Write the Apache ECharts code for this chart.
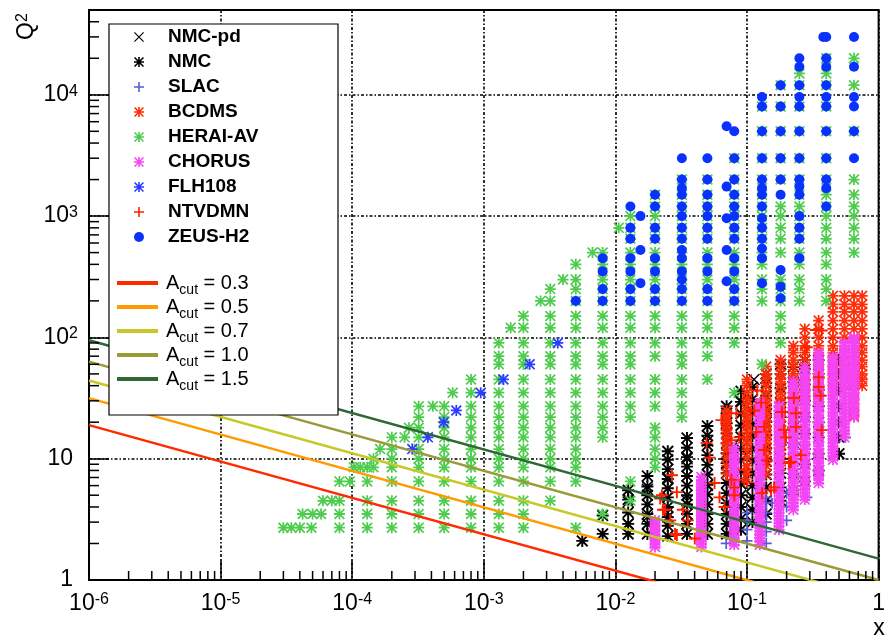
<!DOCTYPE html>
<html>
<head>
<meta charset="utf-8">
<title>Kinematic coverage: Q2 vs x</title>
<script src="https://cdn.jsdelivr.net/npm/echarts@6/dist/echarts.min.js"></script>
<style>
  html, body { margin: 0; padding: 0; background: #fff; }
  #chart { width: 888px; height: 642px; }
</style>
</head>
<body>
<div id="chart"></div>
<script>
// ---------------- axis settings ----------------
const X_MIN = 1e-6, X_MAX = 1;
const Y_MIN = 1, Y_MAX = 5e4;
const xTickLabels = ['10^-6', '10^-5', '10^-4', '10^-3', '10^-2', '10^-1', '1'];
const yTickLabels = ['1', '10', '10^2', '10^3', '10^4'];
const minorSteps = [2, 3, 4, 5, 6, 7, 8, 9];

// ---------------- data sets (x, Q^2) ----------------
// HERA I averaged: columns of [x, [Q2 ...]]
const heraColumns = [
  [8e-5,   [2.7, 3.5, 4.5, 6.5]],
  [1.3e-4, [2.7, 3.5, 4.5, 6.5, 8.5]],
  [2e-4,   [2.7, 3.5, 4.5, 6.5, 8.5, 10, 12, 15]],
  [3.2e-4, [2.7, 3.5, 4.5, 6.5, 8.5, 10, 12, 15, 18, 22, 27]],
  [5e-4,   [2.7, 3.5, 4.5, 6.5, 8.5, 10, 12, 15, 18, 22, 27]],
  [8e-4,   [2.7, 3.5, 4.5, 6.5, 8.5, 10, 12, 15, 18, 22, 27, 35, 45]],
  [1.3e-3, [2.7, 3.5, 4.5, 6.5, 8.5, 10, 12, 15, 18, 22, 27, 35, 45, 60, 70, 90]],
  [2e-3,   [2.7, 3.5, 4.5, 6.5, 8.5, 10, 12, 15, 18, 22, 27, 35, 45, 60, 70, 90, 120, 150]],
  [3.2e-3, [4.5, 6.5, 8.5, 10, 12, 15, 18, 22, 27, 35, 45, 60, 70, 90, 120, 150, 200, 250]],
  [5e-3,   [2.7, 6.5, 8.5, 10, 12, 15, 18, 22, 27, 35, 45, 60, 70, 90, 120, 150, 200, 250, 300, 400]],
  [8e-3,   [3.5, 15, 18, 22, 27, 35, 45, 60, 70, 90, 120, 150, 200, 250, 300, 400, 500]],
  [1.3e-2, [4.5, 6.5, 22, 27, 35, 45, 60, 70, 90, 120, 150, 200, 250, 300, 400, 500, 650, 800, 1000]],
  [2e-2,   [8.5, 10, 12, 15, 18, 27, 35, 45, 70, 90, 120, 150, 200, 250, 300, 400, 500, 650, 800, 1000, 1200, 1500]],
  [3.2e-2, [22, 27, 35, 45, 60, 70, 90, 120, 150, 200, 250, 300, 400, 500, 650, 800, 1000, 1200, 1500, 2000]],
  [5e-2,   [45, 70, 90, 120, 150, 200, 250, 300, 400, 500, 650, 800, 1000, 1200, 1500, 2000]],
  [8e-2,   [35, 90, 120, 150, 200, 250, 300, 400, 500, 650, 800, 1000, 1200, 1500, 2000, 3000]],
  [0.13,   [60, 200, 250, 300, 400, 500, 650, 800, 1000, 1200, 1500, 2000, 3000, 5000, 8000]],
  [0.18,   [90, 120, 150, 200, 250, 300, 500, 650, 800, 1000, 1200, 2000, 3000, 5000, 8000, 12000]],
  [0.25,   [200, 250, 300, 400, 500, 650, 800, 1000, 1200, 1500, 2000, 3000, 5000, 8000, 12000, 15000]],
  [0.4,    [200, 250, 300, 400, 500, 650, 800, 1000, 1200, 1500, 2000, 3000, 5000, 8000, 12000, 15000, 20000]],
  [0.65,   [500, 650, 800, 1000, 1200, 1500, 2000, 5000, 12000, 20000]]
];
// HERA I averaged: points along the low-x kinematic edge
const heraEdge = [
  [3.0e-5, 2.7], [3.45e-5, 2.7], [4.0e-5, 2.7], [4.9e-5, 2.7],
  [4.2e-5, 3.5], [5.0e-5, 3.5], [5.8e-5, 3.5],
  [6.0e-5, 4.5], [7.0e-5, 4.5], [9.6e-5, 6.5],
  [1.03e-4, 8.5], [1.15e-4, 8.5], [1.45e-4, 8.5], [1.45e-4, 10],
  [1.63e-4, 12], [2.5e-4, 15], [2.7e-4, 18], [4.1e-4, 27], [5.8e-4, 35],
  [1.6e-3, 120], [2.7e-3, 200], [4.0e-3, 300], [6.7e-3, 500], [1.06e-2, 800]
];

// ZEUS high-Q2: columns of [x, [Q2 ...]]
const zeusColumns = [
  [0.005,  [200]],
  [0.008,  [200, 250, 350, 450]],
  [0.013,  [200, 250, 350, 450, 650, 800, 1200]],
  [0.0155, [280, 525, 1000]],
  [0.02,   [200, 250, 350, 450, 650, 800, 1200, 1500]],
  [0.032,  [200, 250, 300, 350, 450, 525, 650, 800, 1000, 1200, 1500, 1700, 2000, 3000]],
  [0.05,   [200, 250, 350, 450, 650, 800, 1000, 1200, 1500, 2000, 3000]],
  [0.07,   [290, 525, 960, 1750, 5500]],
  [0.08,   [200, 250, 350, 450, 650, 800, 1000, 1200, 1500, 2000, 3000, 5000]],
  [0.13,   [280, 450, 540, 650, 800, 960, 1200, 1500, 1700, 2000, 3000, 5000, 8000, 9600]],
  [0.18,   [210, 262, 360, 1500, 2000, 3000, 5000, 8000, 12000]],
  [0.25,   [450, 650, 800, 1000, 1500, 1750, 2000, 3000, 5000, 8000, 9600, 12000, 17000, 20000]],
  [0.38,   [30000]],
  [0.4,    [1200, 1700, 2000, 3000, 5000, 8000, 9600, 12000, 17000, 20000, 30000]],
  [0.65,   [3000, 5000, 8000, 9600, 17000, 30000]]
];

// H1 FL measurement
const flhPoints = [
  [2.86e-4, 12], [3.76e-4, 15], [4.96e-4, 20], [6.18e-4, 25],
  [9.48e-4, 35], [1.41e-3, 45], [2.23e-3, 60], [3.65e-3, 90]
];

// NMC proton: columns of [x, [Q2 ...]]
const nmcColumns = [
  [0.0056, [2.1]],
  [0.008,  [2.4, 3.4]],
  [0.0125, [2.4, 2.9, 3.6, 4.6, 5.5]],
  [0.0175, [2.4, 2.9, 3.5, 4.2, 5.0, 5.9, 7.2]],
  [0.025,  [2.3, 2.8, 3.3, 4.0, 4.8, 5.7, 6.8, 8.2, 9.8, 11.5]],
  [0.035,  [2.4, 2.9, 3.5, 4.2, 5.0, 6.0, 7.2, 8.6, 10.3, 12.3, 14.8]],
  [0.05,   [2.4, 2.9, 3.5, 4.2, 5.1, 6.1, 7.4, 8.9, 10.7, 12.9, 15.5, 18.6]],
  [0.07,   [2.4, 2.9, 3.5, 4.3, 5.2, 6.3, 7.6, 9.2, 11.1, 13.4, 16.2, 19.6, 23.7, 27]],
  [0.09,   [2.6, 3.2, 4.0, 5.0, 6.2, 7.8, 9.7, 12.1, 15.1, 18.8, 23.5, 29.4, 36]],
  [0.11,   [3.0, 3.8, 4.8, 6.0, 7.6, 9.6, 12.1, 15.3, 19.3, 24.4, 30.8, 38.9]],
  [0.14,   [3.5, 4.5, 5.8, 7.4, 9.5, 12.2, 15.7, 20.1, 25.8, 33, 42, 50]],
  [0.18,   [4.5, 5.8, 7.6, 10, 13, 17, 22, 29, 38, 50, 60]],
  [0.225,  [5.5, 7.5, 10, 13.5, 18, 24, 32, 43, 57]],
  [0.275,  [6.5, 9, 12, 16, 22, 30, 41, 55, 65]],
  [0.35,   [8, 11, 15, 20, 27, 37, 50, 65]],
  [0.5,    [11, 15, 20, 27, 37, 50, 65]]
];

// NMC deuteron/proton ratio
const nmcPdPoints = [
  [0.0125, 2.9], [0.0125, 4.4], [0.0175, 3.3], [0.0175, 5.6], [0.025, 3.6], [0.025, 7.0],
  [0.035, 4.5], [0.035, 10], [0.05, 6], [0.05, 14], [0.07, 9], [0.07, 20], [0.09, 12],
  [0.09, 30], [0.113, 45], [0.14, 25], [0.18, 35], [0.225, 20], [0.275, 40], [0.35, 30], [0.47, 45]
];

// SLAC
const slacPoints = [
  [0.0695, 2.0], [0.1, 2.1], [0.1, 2.6], [0.1, 3.1], [0.1, 3.6], [0.14, 2.0], [0.14, 2.5],
  [0.14, 3.0], [0.14, 3.6], [0.14, 4.3], [0.14, 4.8], [0.2, 3.1], [0.2, 4.0], [0.2, 5.2],
  [0.155, 4.3], [0.285, 4.8], [0.56, 15]
];

// BCDMS: columns of [x, [Q2 ...]]
const bcdmsColumns = [
  [0.07,  [7.5, 8.75, 10.25, 11.75, 13.25, 14.75, 16.5, 18.5, 20.5, 22.5, 25]],
  [0.10,  [7.5, 8.75, 10.25, 11.75, 13.25, 14.75, 16.5, 18.5, 20.5, 22.5, 25, 28, 31, 35, 40, 45]],
  [0.14,  [7.5, 8.75, 10.25, 11.75, 13.25, 14.75, 16.5, 18.5, 20.5, 22.5, 25, 28, 31, 35, 40, 45, 50, 57.5]],
  [0.18,  [8.75, 10.25, 11.75, 13.25, 14.75, 16.5, 18.5, 20.5, 22.5, 25, 28, 31, 35, 40, 45, 50, 57.5, 65]],
  [0.225, [14.75, 16.5, 18.5, 20.5, 22.5, 25, 28, 31, 35, 40, 45, 50, 57.5, 65, 75, 85]],
  [0.275, [28, 31, 35, 40, 45, 50, 57.5, 65, 75, 85, 100, 117.5]],
  [0.35,  [31, 35, 40, 45, 50, 57.5, 65, 75, 85, 100, 117.5, 137.5]],
  [0.45,  [40, 45, 50, 57.5, 65, 75, 85, 100, 117.5, 137.5, 162.5, 187.5, 220]],
  [0.55,  [40, 45, 50, 57.5, 65, 75, 85, 100, 117.5, 137.5, 162.5, 187.5, 220]],
  [0.65,  [22.5, 25, 28, 31, 35, 40, 45, 50, 57.5, 65, 75, 85, 100, 117.5, 137.5, 162.5, 187.5, 220]],
  [0.75,  [40, 45, 50, 57.5, 65, 75, 85, 100, 117.5, 137.5, 162.5, 187.5, 220]]
];

// CHORUS: columns of [x, [Q2 ...]] (closely packed energy bins)
const chorusColumns = [
  [0.02,  [1.87, 1.98, 2.1, 2.22, 2.36, 2.5, 2.64, 2.8, 2.96, 3.1]],
  [0.045, [1.87, 1.98, 2.1, 2.23, 2.37, 2.52, 2.68, 2.85, 3.02, 3.2, 3.4, 3.61, 3.84, 4.08, 4.33, 4.6, 4.88, 5.18, 5.5, 5.85, 6.2, 6.6, 7.05]],
  [0.08,  [1.95, 2.07, 2.2, 2.34, 2.49, 2.65, 2.82, 3.0, 3.19, 3.39, 3.6, 3.83, 4.07, 4.33, 4.6, 4.9, 5.2, 5.53, 5.88, 6.25, 6.65, 7.07, 7.52, 8.0, 8.5, 9.05, 9.6, 10.2, 10.9, 11.6, 12.4]],
  [0.125, [1.95, 2.08, 2.22, 2.37, 2.53, 2.7, 2.88, 3.07, 3.28, 3.5, 3.73, 3.98, 4.25, 4.53, 4.83, 5.15, 5.5, 5.87, 6.26, 6.68, 7.12, 7.6, 8.1, 8.65, 9.22, 9.84, 10.5, 11.2, 11.95, 12.75, 13.6, 14.5, 15.5, 16.5, 17.6, 18.8, 20.1, 21.4, 22.8, 24.4, 26, 27.7, 29]],
  [0.175, [2.6, 2.77, 2.95, 3.15, 3.36, 3.58, 3.82, 4.07, 4.34, 4.63, 4.94, 5.27, 5.62, 6.0, 6.4, 6.82, 7.28, 7.76, 8.28, 8.83, 9.42, 10.05, 10.7, 11.4, 12.2, 13.0, 13.9, 14.8, 15.8, 16.8, 17.9, 19.1, 20.4, 21.8, 23.2, 24.8, 26.5, 27.2]],
  [0.225, [3.8, 4.05, 4.32, 4.6, 4.9, 5.23, 5.58, 5.95, 6.34, 6.76, 7.2, 7.68, 8.2, 8.74, 9.32, 9.94, 10.6, 11.3, 12.05, 12.85, 13.7, 14.6, 15.6, 16.6, 17.7, 18.9, 20.2, 21.5, 22.9, 24.4, 26.1, 27.8, 29.6, 31.6, 33.7, 36, 38.4, 40.9, 43.6]],
  [0.275, [4.6, 4.9, 5.23, 5.58, 5.95, 6.34, 6.76, 7.2, 7.68, 8.2, 8.74, 9.32, 9.94, 10.6, 11.3, 12.05, 12.85, 13.7, 14.6, 15.6, 16.6, 17.7, 18.9, 20.2, 21.5, 22.9, 24.4, 26.1, 27.8, 29.6, 31.6, 33.7, 36, 38.4, 40.9, 43.6, 46.5, 49.6, 52.9, 56.4]],
  [0.35,  [6.3, 6.72, 7.16, 7.64, 8.15, 8.69, 9.27, 9.88, 10.5, 11.2, 12.0, 12.8, 13.6, 14.5, 15.5, 16.5, 17.6, 18.8, 20.0, 21.4, 22.8, 24.3, 25.9, 27.6, 29.5, 31.4, 33.5, 35.7, 38.1, 40.6, 43.3, 46.2, 49.3, 52.6, 56.1, 59.8, 63.8, 68, 72.5, 74]],
  [0.45,  [9.8, 10.45, 11.15, 11.9, 12.7, 13.5, 14.4, 15.4, 16.4, 17.5, 18.7, 19.9, 21.2, 22.6, 24.1, 25.7, 27.4, 29.2, 31.2, 33.2, 35.4, 37.8, 40.3, 43, 45.8, 48.9, 52.1, 55.6, 59.3, 63.2, 67.4, 69]],
  [0.55,  [15, 16, 17.1, 18.2, 19.4, 20.7, 22.1, 23.5, 25.1, 26.8, 28.5, 30.4, 32.5, 34.6, 36.9, 39.4, 42, 44.8, 47.8, 50.9, 54.3, 57.9, 61.8, 65.9, 70.2, 74.9, 79.9, 85.2, 90]],
  [0.65,  [22, 23.5, 25, 26.7, 28.5, 30.4, 32.4, 34.5, 36.8, 39.3, 41.9, 44.7, 47.6, 50.8, 54.2, 57.8, 61.6, 65.7, 70, 74.7, 79.7, 85, 90.6, 96.6, 100]]
];

// NuTeV / NTVDMN dimuon
const ntvdmnPoints = [
  [0.0219, 4.7], [0.0230, 3.8], [0.0226, 5.0], [0.0239, 3.8], [0.0261, 3.1], [0.0269, 7.3],
  [0.0284, 2.4], [0.0293, 5.3], [0.0293, 2.35], [0.0325, 3.8], [0.0355, 3.1], [0.0401, 2.2],
  [0.0493, 13.5], [0.0520, 10.2], [0.0567, 6.3], [0.0618, 4.8], [0.0675, 4.0], [0.0640, 20.8],
  [0.0698, 17.4], [0.0761, 14.2], [0.0802, 5.8], [0.0802, 5.0], [0.0831, 23.7], [0.0761, 6.7],
  [0.1005, 6.4], [0.0875, 15], [0.0954, 8.1], [0.0954, 6.7], [0.1135, 25], [0.1175, 16.6],
  [0.1304, 5.2], [0.1422, 9.7], [0.1606, 5.8], [0.1845, 24.3], [0.1910, 17.3], [0.2157, 9.4],
  [0.2272, 31.6], [0.2566, 10.7], [0.3506, 47], [0.3506, 39], [0.3630, 33], [0.3694, 17.2],
  [0.3694, 114], [0.2847, 83], [0.1196, 36.5], [0.1282, 29], [0.1350, 18.3], [0.1350, 11.8],
  [0.1525, 5.5], [0.1978, 15], [0.2084, 9.2], [0.2352, 23.7], [0.2352, 18.3], [0.3328, 115]
];

// kinematic cut lines  Q2 = A_cut * x^(-0.3)
const acutValues = [0.3, 0.5, 0.7, 1.0, 1.5];
const acutColors = ['#ff2a00', '#ff9a00', '#c8c82a', '#9a9a38', '#2f6834'];
const acutExponent = 0.3;

// ---------------- marker shapes ----------------
const ASTER = 'path://M8.4,0H11.6V20H8.4Z M0,8.4H20V11.6H0Z M2.2,0L20,17.8L17.8,20L0,2.2Z M17.8,0L20,2.2L2.2,20L0,17.8Z';
const CROSS = 'path://M1.6,0L20,18.4L18.4,20L0,1.6Z M18.4,0L20,1.6L1.6,20L0,18.4Z';
const PLUS  = 'path://M8.4,0H11.6V20H8.4Z M0,8.4H20V11.6H0Z';

const expand = cols => cols.flatMap(([x, qs]) => qs.map(q => [x, q]));

const FONT = "'Liberation Sans', Arial, Helvetica, sans-serif";

function richLabel(t) {
  const i = t.indexOf('^');
  if (i < 0) return '{p|' + t + '}';
  return '{b|' + t.slice(0, i) + '}{s|' + t.slice(i + 1) + '}';
}
function decadeIndex(v, base) {
  const e = Math.log10(v) - Math.log10(base);
  const k = Math.round(e);
  return Math.abs(e - k) < 1e-6 ? k : -1;
}

const labelRich = {
  b: { fontSize: 23, fontFamily: FONT, color: '#000', lineHeight: 23, padding: [6, 0, 0, 0], verticalAlign: 'bottom' },
  s: { fontSize: 16, fontFamily: FONT, color: '#000', lineHeight: 16, verticalAlign: 'top' },
  p: { fontSize: 23, fontFamily: FONT, color: '#000', lineHeight: 23, padding: [6, 0, 0, 0], verticalAlign: 'bottom' }
};

// minor tick values on the log axes
const xMinorTicks = [];
for (let e = -6; e < 0; e++) for (const m of minorSteps) xMinorTicks.push(m * Math.pow(10, e));
const yMinorTicks = [];
for (let e = 0; e < 5; e++) for (const m of minorSteps) { const v = m * Math.pow(10, e); if (v < Y_MAX) yMinorTicks.push(v); }

function scatter(name, data, symbol, size, color) {
  return {
    name, type: 'scatter', data, symbol, symbolSize: size,
    itemStyle: { color, opacity: 1 },
    silent: true, animation: false, emphasis: { disabled: true }
  };
}

const series = [
  scatter('NMC-pd', nmcPdPoints, CROSS, 12, '#000000'),
  scatter('NMC', expand(nmcColumns), ASTER, 12, '#000000'),
  scatter('SLAC', slacPoints, PLUS, 11, '#5a5ad8'),
  scatter('BCDMS', expand(bcdmsColumns), ASTER, 11, '#ff2d0a'),
  scatter('HERAI-AV', expand(heraColumns).concat(heraEdge), ASTER, 11, '#4fcc4f'),
  scatter('CHORUS', expand(chorusColumns), ASTER, 11, '#f446f4'),
  scatter('FLH108', flhPoints, ASTER, 11, '#2a3cff'),
  scatter('NTVDMN', ntvdmnPoints, PLUS, 12, '#ff2000'),
  scatter('ZEUS-H2', expand(zeusColumns), 'circle', 10, '#0a32ff')
];

acutValues.forEach((a, i) => {
  series.push({
    name: 'Acut = ' + a.toFixed(1),
    type: 'line',
    data: [[X_MIN, a * Math.pow(X_MIN, -acutExponent)], [X_MAX, a * Math.pow(X_MAX, -acutExponent)]],
    showSymbol: false, symbol: 'none', clip: true,
    lineStyle: { color: acutColors[i], width: 2.5 },
    itemStyle: { color: acutColors[i] },
    z: 3, silent: true, animation: false
  });
});

// minor ticks drawn through the axis scales
series.push({
  type: 'custom', silent: true, clip: false, z: 6, animation: false,
  data: xMinorTicks.map(v => [v, Y_MIN]),
  renderItem: (params, api) => {
    const p = api.coord([api.value(0), api.value(1)]);
    return { type: 'line', shape: { x1: p[0], y1: p[1], x2: p[0], y2: p[1] - 9 }, style: { stroke: '#000', lineWidth: 1.5 } };
  }
});
series.push({
  type: 'custom', silent: true, clip: false, z: 6, animation: false,
  data: yMinorTicks.map(v => [X_MIN, v]),
  renderItem: (params, api) => {
    const p = api.coord([api.value(0), api.value(1)]);
    return { type: 'line', shape: { x1: p[0], y1: p[1], x2: p[0] + 10, y2: p[1] }, style: { stroke: '#000', lineWidth: 1.5 } };
  }
});

const markerLegend = [
  { name: 'NMC-pd', icon: CROSS },
  { name: 'NMC', icon: ASTER },
  { name: 'SLAC', icon: PLUS },
  { name: 'BCDMS', icon: ASTER },
  { name: 'HERAI-AV', icon: ASTER },
  { name: 'CHORUS', icon: ASTER },
  { name: 'FLH108', icon: ASTER },
  { name: 'NTVDMN', icon: PLUS },
  { name: 'ZEUS-H2', icon: 'circle' }
];
const lineLegend = acutValues.map(a => ({ name: 'Acut = ' + a.toFixed(1), icon: 'rect' }));

const gridLine = { show: true, lineStyle: { color: '#000', width: 1.6, type: [3, 2, 1.5, 2] } };

const option = {
  backgroundColor: '#fff',
  animation: false,
  grid: { left: 89, right: 3, top: 10, bottom: 62, show: true, borderColor: '#000', borderWidth: 2, backgroundColor: 'transparent' },
  xAxis: {
    type: 'log', logBase: 10, min: X_MIN, max: X_MAX,
    axisLine: { show: true, onZero: false, lineStyle: { color: '#000', width: 2 } },
    axisTick: { show: true, inside: true, length: 20, lineStyle: { color: '#000', width: 1.5 } },
    minorTick: { show: false },
    splitLine: gridLine,
    axisLabel: {
      margin: 12, showMinLabel: true, showMaxLabel: true, hideOverlap: false,
      formatter: v => { const k = decadeIndex(v, X_MIN); return k >= 0 && xTickLabels[k] ? richLabel(xTickLabels[k]) : ''; },
      rich: labelRich
    }
  },
  yAxis: {
    type: 'log', logBase: 10, min: Y_MIN, max: Y_MAX,
    axisLine: { show: true, onZero: false, lineStyle: { color: '#000', width: 2 } },
    axisTick: { show: true, inside: true, length: 20, lineStyle: { color: '#000', width: 1.5 } },
    minorTick: { show: false },
    splitLine: gridLine,
    axisLabel: {
      margin: 11, showMinLabel: true, showMaxLabel: false, hideOverlap: false,
      formatter: v => { const k = decadeIndex(v, Y_MIN); return k >= 0 && yTickLabels[k] ? richLabel(yTickLabels[k]) : ''; },
      rich: {
        b: labelRich.b, s: labelRich.s,
        p: Object.assign({}, labelRich.p, { padding: [6, 5, 0, 0] })
      }
    }
  },
  legend: [
    {
      data: markerLegend, orient: 'vertical', left: 129, top: 22,
      itemWidth: 48, itemHeight: 10, itemGap: 5, selectedMode: false, z: 20,
      textStyle: { fontSize: 19, fontWeight: 'bold', fontFamily: FONT, color: '#000', lineHeight: 20 }
    },
    {
      data: lineLegend, orient: 'vertical', left: 112, top: 268,
      itemWidth: 41, itemHeight: 4, itemGap: 0, selectedMode: false, z: 20,
      formatter: name => '{a|A}{c|cut}{a|' + name.slice(4) + '}',
      textStyle: {
        fontFamily: FONT, color: '#000', padding: [0, 0, 0, 3],
        rich: {
          a: { fontSize: 20, fontFamily: FONT, color: '#000', lineHeight: 20, verticalAlign: 'top' },
          c: { fontSize: 14, fontFamily: FONT, color: '#000', lineHeight: 14, verticalAlign: 'top', padding: [10, 0, 0, 0] }
        }
      }
    }
  ],
  graphic: [
    { type: 'rect', z: 15, shape: { x: 109, y: 24, width: 229, height: 391 }, style: { fill: '#fff', stroke: '#000', lineWidth: 1.2 } },
    { type: 'text', z: 15, x: 879, y: 629,
      style: { text: 'x', fontSize: 23, fontFamily: FONT, fill: '#000', textAlign: 'center', textVerticalAlign: 'middle' } },
    { type: 'text', z: 15, x: 38, y: 40, rotation: Math.PI / 2,
      style: {
        text: '{q|Q}{s|2}', textAlign: 'left', textVerticalAlign: 'bottom',
        rich: {
          q: { fontSize: 23, fontFamily: FONT, fill: '#000', lineHeight: 23, padding: [6, 0, 0, 0], verticalAlign: 'bottom' },
          s: { fontSize: 16, fontFamily: FONT, fill: '#000', lineHeight: 16, verticalAlign: 'top' }
        }
      } }
  ],
  series
};

const chart = echarts.init(document.getElementById('chart'), null, { renderer: 'canvas' });
chart.setOption(option);
</script>
</body>
</html>
